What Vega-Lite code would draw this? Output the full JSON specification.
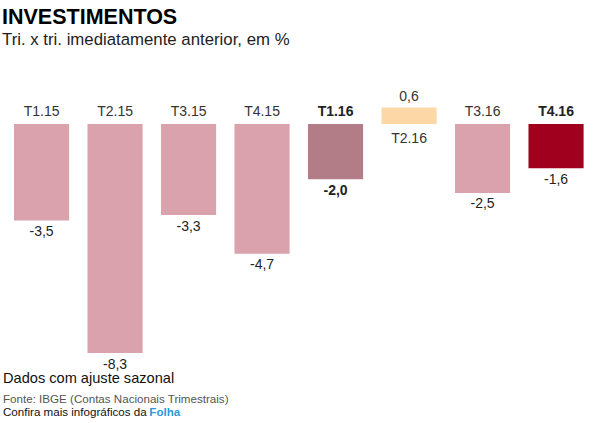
{
  "$schema": "https://vega.github.io/schema/vega-lite/v6.json",
  "width": 603,
  "height": 365,
  "autosize": {"type": "none"},
  "padding": {"top": 58, "left": 0, "right": 0, "bottom": 0},
  "background": "#ffffff",
  "title": {
    "text": "INVESTIMENTOS",
    "subtitle": "Tri. x tri. imediatamente anterior, em %",
    "anchor": "start",
    "frame": "group",
    "dx": 2,
    "offset": 9,
    "font": "Liberation Sans",
    "fontSize": 21.5,
    "fontWeight": "bold",
    "color": "#000000",
    "subtitleFont": "Liberation Sans",
    "subtitleFontSize": 16.8,
    "subtitleColor": "#222222",
    "subtitlePadding": 4
  },
  "config": {
    "view": {"stroke": null},
    "font": "Liberation Sans",
    "locale": {
      "number": {"decimal": ",", "thousands": ".", "grouping": [3], "currency": ["R$", ""], "minus": "-"}
    }
  },
  "data": {
    "values": [
      {"tri": "T1.15", "valor": -3.5},
      {"tri": "T2.15", "valor": -8.3},
      {"tri": "T3.15", "valor": -3.3},
      {"tri": "T4.15", "valor": -4.7},
      {"tri": "T1.16", "valor": -2.0},
      {"tri": "T2.16", "valor": 0.6},
      {"tri": "T3.16", "valor": -2.5},
      {"tri": "T4.16", "valor": -1.6}
    ]
  },
  "encoding": {
    "x": {
      "field": "tri",
      "type": "nominal",
      "sort": null,
      "axis": null,
      "scale": {"range": [14, 583.6], "paddingInner": 0.25, "paddingOuter": 0}
    }
  },
  "layer": [
    {
      "mark": {"type": "bar"},
      "encoding": {
        "y": {
          "field": "valor",
          "type": "quantitative",
          "axis": null,
          "scale": {"domain": [-10.837, 2.392], "nice": false, "zero": false}
        },
        "y2": {"datum": 0},
        "color": {
          "field": "tri",
          "type": "nominal",
          "legend": null,
          "scale": {
            "domain": ["T1.15", "T2.15", "T3.15", "T4.15", "T1.16", "T2.16", "T3.16", "T4.16"],
            "range": ["#d9a2ad", "#d9a2ad", "#d9a2ad", "#d9a2ad", "#b27d87", "#fdd7a5", "#d9a2ad", "#a0001e"]
          }
        }
      }
    },
    {
      "transform": [{"filter": "datum.valor < 0 && datum.tri != 'T1.16' && datum.tri != 'T4.16'"}],
      "mark": {"type": "text", "baseline": "alphabetic", "dy": -8, "fontSize": 14, "color": "#333333"},
      "encoding": {"y": {"datum": 0}, "text": {"field": "tri"}}
    },
    {
      "transform": [{"filter": "datum.tri == 'T1.16' || datum.tri == 'T4.16'"}],
      "mark": {"type": "text", "baseline": "alphabetic", "dy": -8, "fontSize": 14, "fontWeight": "bold", "color": "#222222"},
      "encoding": {"y": {"datum": 0}, "text": {"field": "tri"}}
    },
    {
      "transform": [{"filter": "datum.valor > 0"}],
      "mark": {"type": "text", "baseline": "alphabetic", "dy": 19, "fontSize": 14, "color": "#333333"},
      "encoding": {"y": {"datum": 0}, "text": {"field": "tri"}}
    },
    {
      "transform": [{"filter": "datum.valor < 0 && datum.tri != 'T1.16'"}],
      "mark": {"type": "text", "baseline": "alphabetic", "dy": 15.5, "fontSize": 14, "color": "#222222"},
      "encoding": {
        "y": {"field": "valor", "type": "quantitative"},
        "text": {"field": "valor", "type": "quantitative", "format": ".1f"}
      }
    },
    {
      "transform": [{"filter": "datum.tri == 'T1.16'"}],
      "mark": {"type": "text", "baseline": "alphabetic", "dy": 16, "fontSize": 14, "fontWeight": "bold", "color": "#222222"},
      "encoding": {
        "y": {"field": "valor", "type": "quantitative"},
        "text": {"field": "valor", "type": "quantitative", "format": ".1f"}
      }
    },
    {
      "transform": [{"filter": "datum.valor > 0"}],
      "mark": {"type": "text", "baseline": "alphabetic", "dy": -6, "fontSize": 14, "color": "#333333"},
      "encoding": {
        "y": {"field": "valor", "type": "quantitative"},
        "text": {"field": "valor", "type": "quantitative", "format": ".1f"}
      }
    },
    {
      "data": {"values": [{"nota": "Dados com ajuste sazonal"}]},
      "mark": {"type": "text", "align": "left", "baseline": "alphabetic", "dx": -11, "fontSize": 14.6, "color": "#111111"},
      "encoding": {
        "x": {"datum": "T1.15", "bandPosition": 0},
        "y": {"datum": -9.4},
        "text": {"field": "nota"}
      }
    },
    {
      "data": {"values": [{"nota": "Fonte: IBGE (Contas Nacionais Trimestrais)"}]},
      "mark": {"type": "text", "align": "left", "baseline": "alphabetic", "dx": -11, "fontSize": 11.6, "color": "#555555"},
      "encoding": {
        "x": {"datum": "T1.15", "bandPosition": 0},
        "y": {"datum": -10.12},
        "text": {"field": "nota"}
      }
    },
    {
      "data": {"values": [{"nota": "Confira mais infográficos da"}]},
      "mark": {"type": "text", "align": "left", "baseline": "alphabetic", "dx": -11, "fontSize": 11.6, "color": "#111111"},
      "encoding": {
        "x": {"datum": "T1.15", "bandPosition": 0},
        "y": {"datum": -10.57},
        "text": {"field": "nota"}
      }
    },
    {
      "data": {"values": [{"nota": "Folha"}]},
      "mark": {"type": "text", "align": "left", "baseline": "alphabetic", "dx": 135.3, "fontSize": 11.6, "fontWeight": "bold", "color": "#2a9ad8"},
      "encoding": {
        "x": {"datum": "T1.15", "bandPosition": 0},
        "y": {"datum": -10.57},
        "text": {"field": "nota"}
      }
    }
  ]
}
